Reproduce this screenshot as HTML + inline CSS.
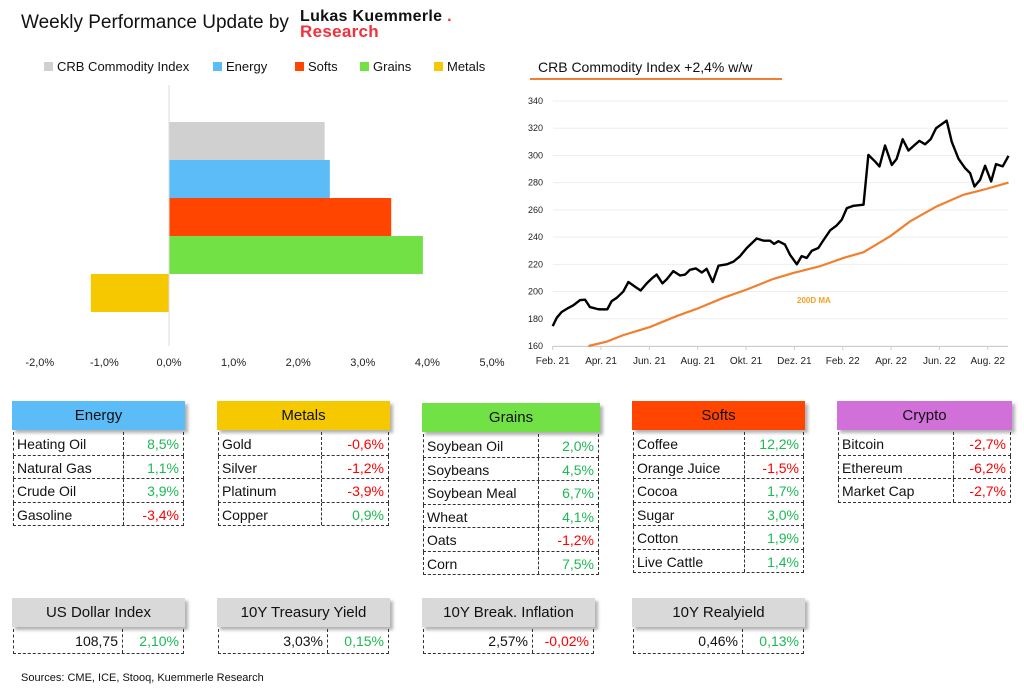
<!DOCTYPE html>
<html><head><meta charset="utf-8">
<style>
*{margin:0;padding:0;box-sizing:border-box}
body{width:1024px;height:689px;background:#fff;font-family:"Liberation Sans",sans-serif;position:relative;overflow:hidden;color:#111}
.abs{position:absolute}
.hdr{position:absolute;height:29px;font-size:15px;text-align:center;line-height:30px;box-shadow:3px 3px 3px rgba(0,0,0,0.3)}
.row{position:absolute;height:23.5px;font-size:14px;line-height:24px;border-left:1px dashed #333;border-right:1px dashed #333;border-bottom:1px dashed #333}
.row .n{position:absolute;left:3px;top:0}
.row .v{position:absolute;right:4px;top:0}
.row .sep{position:absolute;top:0;bottom:0;border-left:1px dashed #333}
.pos{color:#1db954}.neg{color:#f00}
.leg{position:absolute;top:59px;font-size:13px;height:16px;line-height:16px}
.leg i{display:inline-block;width:9px;height:9px;margin-right:4px;vertical-align:0}
</style></head><body>
<div class="abs" style="left:21px;top:12px;font-size:19px">Weekly Performance Update by</div>
<div class="abs" style="left:300px;top:9px;font-size:16px;font-weight:bold;line-height:15px;letter-spacing:0.3px">Lukas Kuemmerle<span style="color:#f0303a"> .</span><br><span style="color:#f0303a;font-size:17px">Research</span></div>

<div class="leg" style="left:44px"><i style="background:#d0d0d0"></i>CRB Commodity Index</div>
<div class="leg" style="left:213px"><i style="background:#5bbcf8"></i>Energy</div>
<div class="leg" style="left:295px"><i style="background:#ff4500"></i>Softs</div>
<div class="leg" style="left:360px"><i style="background:#72e146"></i>Grains</div>
<div class="leg" style="left:434px"><i style="background:#f5c800"></i>Metals</div>

<svg class="abs" style="left:0;top:80px" width="510" height="300">
<g id="bars"></g><g id="bx"></g>
</svg>

<div class="abs" style="left:538px;top:59px;font-size:14px">CRB Commodity Index +2,4% w/w</div>
<div class="abs" style="left:530px;top:78px;width:252px;height:2px;background:#f08030"></div>
<svg class="abs" style="left:510px;top:80px" width="514" height="300">
<g id="lgrid"></g><g id="lx"></g><g id="llines"></g>
<text x="287" y="223" font-size="8" font-weight="bold" fill="#f5a020" font-family="Liberation Sans">200D MA</text>
</svg>

<div id="tables"></div>
<div class="abs" style="left:21px;top:672px;font-size:11px">Sources: CME, ICE, Stooq, Kuemmerle Research</div>

<script>
const barCats=["CRB Commodity Index","Energy","Softs","Grains","Metals"];
const barVals=[2.41,2.49,3.44,3.93,-1.21];
const barColors=["#d0d0d0","#5bbcf8","#ff4500","#72e146","#f5c800"];
const barTicks=[-2,-1,0,1,2,3,4,5];

const lineMonths=[0,0.17,0.37,0.65,0.86,1.13,1.34,1.54,1.89,2.10,2.26,2.44,2.65,2.92,3.13,3.41,3.64,3.89,4.10,4.30,4.54,4.72,4.99,5.27,5.48,5.68,5.92,6.17,6.37,6.62,6.86,7.20,7.48,7.75,8.03,8.44,8.72,8.99,9.16,9.34,9.61,9.82,10.10,10.30,10.51,10.72,10.99,11.20,11.48,11.75,11.96,12.17,12.44,12.86,13.06,13.34,13.52,13.75,14.03,14.23,14.48,14.72,14.95,15.17,15.41,15.64,15.86,16.30,16.51,16.79,17.06,17.27,17.45,17.68,17.89,18.14,18.34,18.62,18.86];
const lineVals=[174.6,180.8,185,188,190,193.7,194,188.6,187,186.9,187,193,195.4,200,207,203.5,200.8,206,209.6,212.5,206,209,215,211.8,212.5,216,217,214,216.7,207,219,220,222,226,232,239,237.4,237.4,235,237,234.5,227,220,226,224.7,230,232,237.7,245,248.6,252.8,261.3,263,263.8,300.4,295.5,291.9,307.3,293,297.5,311.9,303.6,307.3,310.7,308.2,312,320,325.6,310,297.5,290.7,287,277.2,282,292.4,280.9,293.6,292,299.7];
const maMonths=[1.48,2.23,2.92,4.03,5.13,5.96,7.06,8.03,9.13,9.96,11.06,12.03,12.86,13.96,14.79,15.89,16.99,17.82,18.86];
const maVals=[160,163.2,168,174,182,187.3,195.4,201.5,209.3,213.7,218.6,224.7,228.9,240.6,251.6,262.6,271.1,274.8,280.1];
const yTicks=[160,180,200,220,240,260,280,300,320,340];
const xTickLabels=["Feb. 21","Apr. 21","Jun. 21","Aug. 21","Okt. 21","Dez. 21","Feb. 22","Apr. 22","Jun. 22","Aug. 22"];

const NS="http://www.w3.org/2000/svg";
function mk(tag,attrs,parent){const e=document.createElementNS(NS,tag);for(const k in attrs)e.setAttribute(k,attrs[k]);parent.appendChild(e);return e;}

const bx=v=>169+v*64.6;
const bars=document.getElementById('bars');
barVals.forEach((v,i)=>{
  const r=mk('rect',{x:Math.min(bx(0),bx(v)),y:42+i*38,width:Math.abs(bx(v)-bx(0)),height:38,fill:barColors[i]},bars);
  
  
});
const zl=mk('line',{x1:bx(0),x2:bx(0),y1:5,y2:266,stroke:'#ddd','stroke-width':1},bars);


const bxg=document.getElementById('bx');
barTicks.forEach(t=>{
  const tx=mk('text',{x:bx(t),y:286,'font-size':11,'text-anchor':'middle','font-family':'Liberation Sans',fill:'#222'},bxg);
  tx.textContent=t.toFixed(1).replace('.',',')+'%';
  
  
});

const lx=m=>42.7+m*24.17;
const ly=v=>266-(v-160)*1.3611;
const g=document.getElementById('lgrid');
yTicks.forEach(t=>{
  const l=mk('line',{x1:43,x2:498,y1:ly(t),y2:ly(t),stroke:'#eee','stroke-width':1},g);
  
  
  const tx=mk('text',{x:33,y:ly(t)+3,'font-size':9,'text-anchor':'end','font-family':'Liberation Sans',fill:'#222'},g);
  tx.textContent=t;
  
  
});
const xg=document.getElementById('lx');
const ax=mk('line',{x1:43,x2:498,y1:266.5,y2:266.5,stroke:'#ccc'},xg);


xTickLabels.forEach((s,i)=>{
  const m=i*2;
  const tk=mk('line',{x1:lx(m),x2:lx(m),y1:266,y2:270,stroke:'#ccc'},xg);
  
  
  const tx=mk('text',{x:lx(m),y:284,'font-size':10,'text-anchor':'middle','font-family':'Liberation Sans',fill:'#222'},xg);
  tx.textContent=s;
  
  
});
const ll=document.getElementById('llines');
const ma=mk('polyline',{points:maMonths.map((m,i)=>lx(m)+','+ly(maVals[i])).join(' '),fill:'none',stroke:'#f08030','stroke-width':2.2},ll);


const crb=mk('polyline',{points:lineMonths.map((m,i)=>lx(m)+','+ly(lineVals[i])).join(' '),fill:'none',stroke:'#000','stroke-width':2.4,'stroke-linejoin':'round'},ll);



const tables=[
 {name:"Energy",x:12,y:401,w:173,split:122,bg:"#5bbcf8",rows:[["Heating Oil","8,5%"],["Natural Gas","1,1%"],["Crude Oil","3,9%"],["Gasoline","-3,4%"]]},
 {name:"Metals",x:217,y:401,w:173,split:320,bg:"#f5c800",rows:[["Gold","-0,6%"],["Silver","-1,2%"],["Platinum","-3,9%"],["Copper","0,9%"]]},
 {name:"Grains",x:422,y:403,w:178,split:537,bg:"#72e146",rows:[["Soybean Oil","2,0%"],["Soybeans","4,5%"],["Soybean Meal","6,7%"],["Wheat","4,1%"],["Oats","-1,2%"],["Corn","7,5%"]]},
 {name:"Softs",x:632,y:401,w:173,split:743,bg:"#ff4500",rows:[["Coffee","12,2%"],["Orange Juice","-1,5%"],["Cocoa","1,7%"],["Sugar","3,0%"],["Cotton","1,9%"],["Live Cattle","1,4%"]]},
 {name:"Crypto",x:837,y:401,w:175,split:952,bg:"#d070d8",rows:[["Bitcoin","-2,7%"],["Ethereum","-6,2%"],["Market Cap","-2,7%"]]},
];
const T=document.getElementById('tables');
tables.forEach(t=>{
  const h=document.createElement('div');
  h.className='hdr';
  h.style.cssText+=`left:${t.x}px;top:${t.y}px;width:${t.w}px;background:${t.bg}`;
  h.textContent=t.name;
  
  
  T.appendChild(h);
  t.rows.forEach((r,i)=>{
    const d=document.createElement('div');
    d.className='row';
    d.style.cssText+=`left:${t.x+1}px;top:${t.y+31+i*23.5}px;width:${t.w-2}px`;
    const neg=r[1].startsWith('-');
    d.innerHTML=`<span class="n">${r[0]}</span><span class="sep" style="left:${t.split-t.x-1}px"></span><span class="v ${neg?'neg':'pos'}">${r[1]}</span>`;
    
    
    T.appendChild(d);
  });
});
const macro=[
 {name:"US Dollar Index",x:12,v:"108,75",c:"2,10%"},
 {name:"10Y Treasury Yield",x:217,v:"3,03%",c:"0,15%"},
 {name:"10Y Break. Inflation",x:422,v:"2,57%",c:"-0,02%"},
 {name:"10Y Realyield",x:632,v:"0,46%",c:"0,13%"},
];
macro.forEach(m=>{
  const h=document.createElement('div');
  h.className='hdr';
  h.style.cssText+=`left:${m.x}px;top:598px;width:173px;background:#d9d9d9`;
  h.textContent=m.name;
  
  
  T.appendChild(h);
  const d=document.createElement('div');
  d.className='row';
  d.style.cssText+=`left:${m.x+1}px;top:629px;width:171px;height:25px;line-height:25px`;
  d.innerHTML=`<span class="sep" style="left:108px"></span><span class="v" style="right:65px">${m.v}</span><span class="v ${m.c.startsWith('-')?'neg':'pos'}">${m.c}</span>`;
  
  
  T.appendChild(d);
});
</script>
</body></html>
